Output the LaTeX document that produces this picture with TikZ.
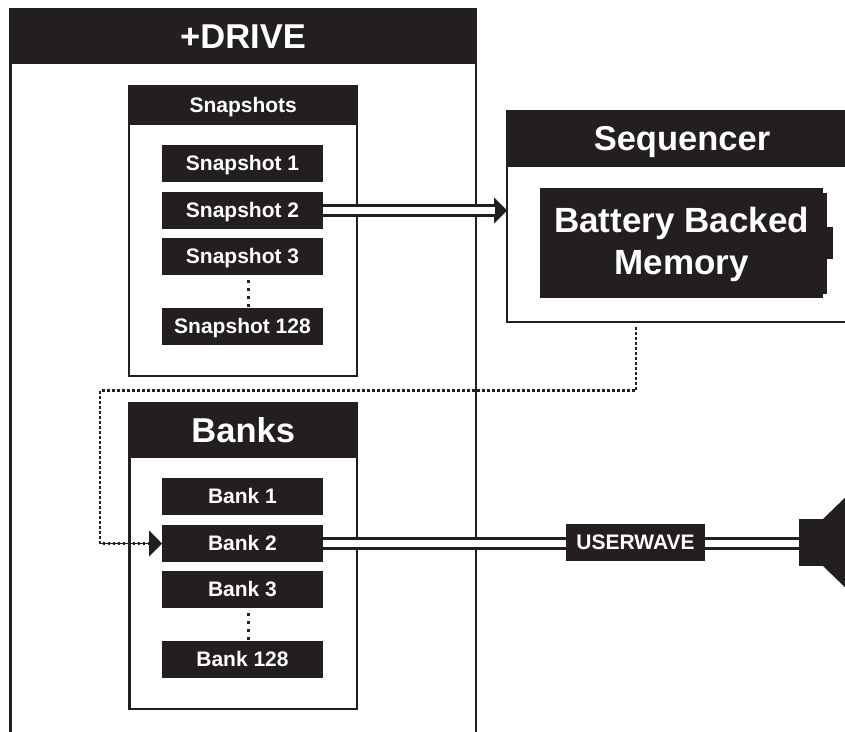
\documentclass[tikz,border=0pt]{standalone}
\usepackage{fontspec}
\setmainfont{Liberation Sans}
\usetikzlibrary{arrows.meta}
\definecolor{ink}{HTML}{231F20}
\tikzset{
  frame/.style={draw=ink,line width=2.5pt,fill=white,inner sep=0pt,outer sep=0pt},
  blk/.style={fill=ink,text=white,inner sep=0pt,outer sep=0pt,font=\bfseries\fontsize{21}{24}\selectfont,text height=14.5pt,text depth=0pt},
  item/.style={blk,minimum width=161pt,minimum height=37pt},
  bighead/.style={blk,font=\bfseries\fontsize{34.5}{40}\selectfont,text height=24pt},
  pipe/.style={draw=ink,line width=3pt,double=white,double distance=7.5pt},
  dots/.style={draw=ink,line width=2.6pt,dash pattern=on 2.5pt off 2.5pt},
  sparse/.style={draw=ink,line width=3pt,dash pattern=on 3pt off 5pt},
  tipped/.style={draw=ink,line width=.3pt,-{Triangle[length=13pt,width=26pt,fill=ink]}}
}
\begin{document}
\begin{tikzpicture}[x=1pt,y=-1pt]
\useasboundingbox (0,0) rectangle (845,731);
\clip (0,0) rectangle (845,731);
\fill[white] (0,0) rectangle (845,731);
% +DRIVE
\node[frame,minimum width=465.5pt,minimum height=752pt] (drive) at (243,385) {};
\node[bighead,minimum width=468pt,minimum height=56pt] (drivehead) at (243,36) {+DRIVE};
% Snapshots
\node[frame,minimum width=228pt,minimum height=289.5pt] (snapbox) at (243.2,231) {};
\node[blk,minimum width=230.5pt,minimum height=40pt] (snaphead) at (243.2,105) {Snapshots};
\node[item] (s1) at (242.5,163.5) {Snapshot 1};
\node[item] (s2) at (242.5,210.5) {Snapshot 2};
\node[item] (s3) at (242.5,256.5) {Snapshot 3};
\node[item] (s128) at (242.5,326.5) {Snapshot 128};
% Banks
\node[frame,minimum width=227.5pt,minimum height=305.5pt] (bankbox) at (243.2,556) {};
\node[bighead,minimum width=230pt,minimum height=56pt] (bankhead) at (243.2,430) {Banks};
\node[item] (b1) at (242.5,496.5) {Bank 1};
\node[item] (b2) at (242.5,543.5) {Bank 2};
\node[item] (b3) at (242.5,589.5) {Bank 3};
\node[item] (b128) at (242.5,659.5) {Bank 128};
% Sequencer
\node[frame,minimum width=350pt,minimum height=210.5pt] (seq) at (682,216.5) {};
\node[bighead,minimum width=352.5pt,minimum height=57pt] (seqhead) at (682,138.5) {Sequencer};
\node[fill=ink,minimum width=283pt,minimum height=110pt,inner sep=0pt,outer sep=0pt] (mem) at (681.5,243) {};
\node[text=white,align=center,inner sep=0pt,font=\bfseries\fontsize{35}{42}\selectfont] (memtext) at (681.5,244) {Battery Backed\\Memory};
\node[fill=ink,minimum width=4pt,minimum height=101pt,inner sep=0pt,outer sep=0pt,anchor=west] (cellrim) at (mem.east) {};
\node[fill=ink,minimum width=6pt,minimum height=32pt,inner sep=0pt,outer sep=0pt,anchor=west] (cellcap) at (cellrim.east) {};
% connectors
\coordinate (sa) at ([xshift=5.5pt,yshift=3pt]s3.south);
\coordinate (sb) at ([xshift=5.5pt,yshift=-3pt]s128.north);
\draw[sparse] (sa) -- (sb);
\coordinate (ba) at ([xshift=5.5pt,yshift=3pt]b3.south);
\coordinate (bb) at ([xshift=5.5pt,yshift=-3pt]b128.north);
\draw[sparse] (ba) -- (bb);
\draw[tipped] (s2.east) -- (seq.west |- s2.east);
\coordinate (snapend) at ([xshift=-12pt]seq.west |- s2.east);
\draw[pipe] (s2.east) -- (snapend);
% speaker
\node[fill=ink,minimum width=24pt,minimum height=47pt,inner sep=0pt,outer sep=0pt] (spk) at (811,542.5) {};
\fill[ink] (spk.north east) -- (855,488) -- (855,597) -- (spk.south east) -- cycle;
\draw[pipe] (b2.east) -- (b2.east -| spk.west);
\node[blk,minimum width=139pt,minimum height=37pt] (uw) at (635.5,542.5) {USERWAVE};
% dotted feedback
\coordinate (fbstart) at (636,327);
\coordinate (fbcornerA) at (636,390.5);
\coordinate (fbcornerB) at (100,390.5);
\coordinate (fbcornerC) at (100,543.5);
\draw[tipped] (fbcornerC) -- (b2.west);
\draw[dots] (fbstart) -- (fbcornerA) -- (fbcornerB) -- (fbcornerC) -- ([xshift=-12pt]b2.west);
\end{tikzpicture}
\end{document}
